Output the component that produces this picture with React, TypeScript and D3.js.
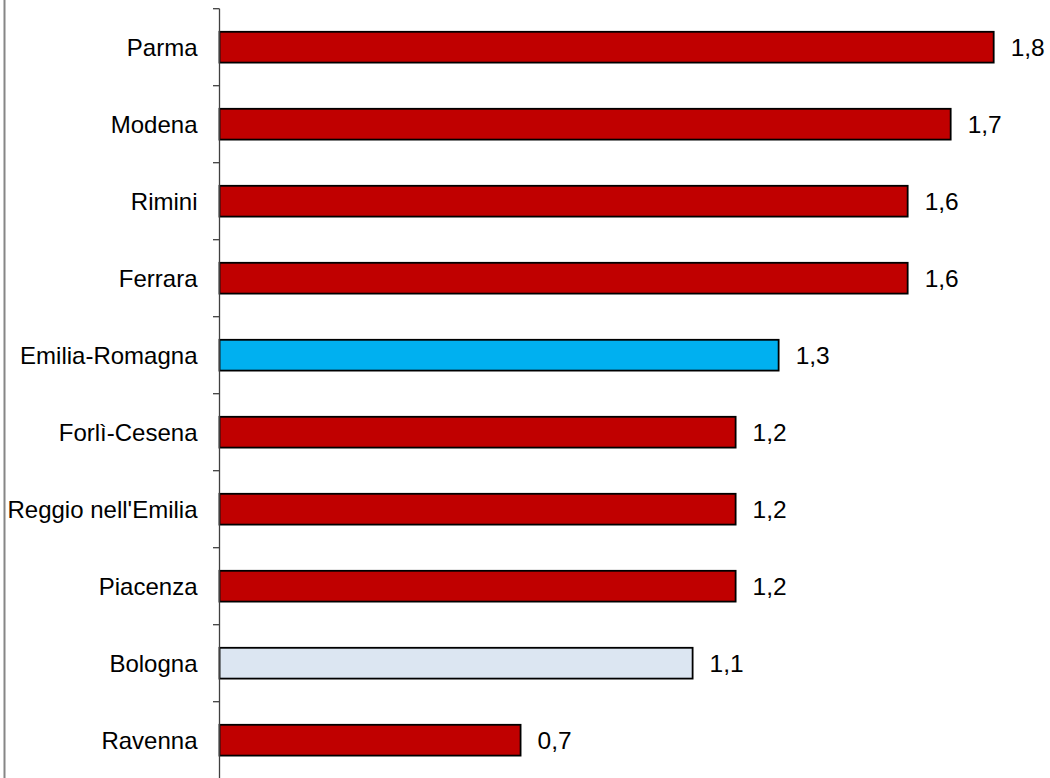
import React from "react";
import * as d3 from "d3";

const categories = ["Parma", "Modena", "Rimini", "Ferrara", "Emilia-Romagna", "Forlì-Cesena", "Reggio nell'Emilia", "Piacenza", "Bologna", "Ravenna"];
const values = [1.8, 1.7, 1.6, 1.6, 1.3, 1.2, 1.2, 1.2, 1.1, 0.7];
const kinds = ["prov", "prov", "prov", "prov", "region", "prov", "prov", "prov", "metro", "prov"];
const valueLabels = ["1,8", "1,7", "1,6", "1,6", "1,3", "1,2", "1,2", "1,2", "1,1", "0,7"];

const colorByKind: Record<string, string> = { prov: "#C00000", region: "#00B0F0", metro: "#DCE6F2" };

export default function App() {
  const W = 1050, H = 778;
  const axisX = 219.5;
  const x = d3.scaleLinear().domain([0, 2]).range([axisX, axisX + 860.2]);
  const y = d3.scaleBand<string>().domain(categories).range([8.7, 778.7]).paddingInner(0.6).paddingOuter(0.3);
  const step = y.step();
  const tickYs = d3.range(categories.length + 1).map((i) => 8.7 + i * step);
  const font = "Arial, 'Liberation Sans', sans-serif";
  return (
    <svg width={W} height={H} style={{ position: "absolute", left: 0, top: 0, background: "#fff" }} fontFamily={font}>
      <rect x={0} y={0} width={W} height={H} fill="#fff" />
      <line x1={4.5} x2={4.5} y1={0} y2={H} stroke="#868686" strokeWidth={2} />
      {categories.map((c, i) => {
        const by = y(c)!;
        const bh = y.bandwidth();
        const cy = by + bh / 2;
        return (
          <g key={c}>
            <rect x={x(0)} y={by} width={x(values[i]) - x(0)} height={bh} fill={colorByKind[kinds[i]]} stroke="#000" strokeWidth={1.8} />
            <text x={197.5} y={cy} dy="0.35em" textAnchor="end" fontSize={24} fill="#000">{c}</text>
            <text x={x(values[i]) + 17} y={cy} dy="0.35em" textAnchor="start" fontSize={24.5} fill="#000">{valueLabels[i]}</text>
          </g>
        );
      })}
      <line x1={axisX} x2={axisX} y1={8.7} y2={H + 2} stroke="#404040" strokeWidth={1.3} />
      {tickYs.map((ty, i) => (
        <line key={i} x1={213} x2={axisX} y1={ty} y2={ty} stroke="#404040" strokeWidth={1.3} />
      ))}
    </svg>
  );
}
